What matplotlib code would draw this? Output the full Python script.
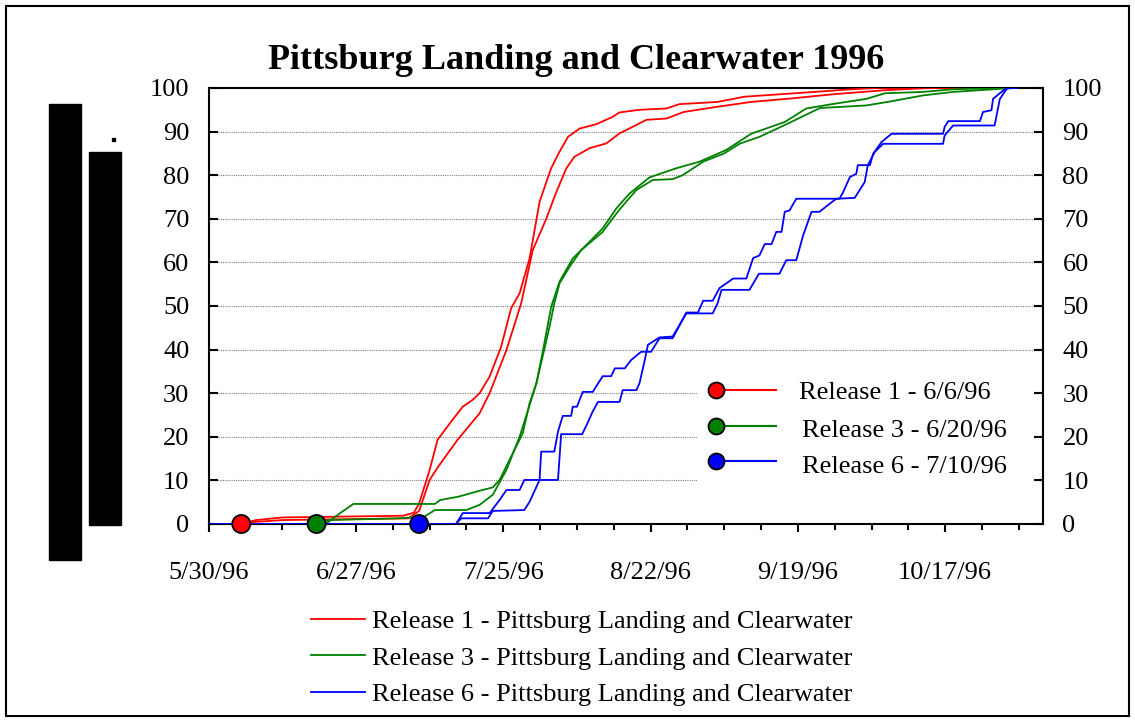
import numpy as np
import matplotlib.pyplot as plt
from matplotlib.patches import Rectangle
from matplotlib.lines import Line2D

plt.rcParams['font.family'] = ['Liberation Serif', 'DejaVu Serif']

# x = days after 5/30/96, y = cumulative percent passage
r1a_day = [0, 6, 9, 14, 37, 39, 40, 42, 43.5, 46.1, 48.3, 50.2, 51.5, 53.4, 55.6, 57.5, 59.1,
           61.0, 62.9, 65.1, 66.7, 68.3, 70.5, 73.7, 76.8, 78.1, 81.9, 87.0, 89.5, 96.7,
           101.8, 112.7, 122.2, 126.7, 153]
r1a_pct = [0, 0, 0.9, 1.5, 1.9, 2.6, 4.7, 12.4, 19.3, 23.5, 26.9, 28.5, 30.0, 33.8, 40.7, 49.5, 52.9,
           60.9, 73.9, 81.6, 85.4, 88.8, 90.7, 91.7, 93.4, 94.4, 95.0, 95.3, 96.3, 96.8,
           98.0, 98.9, 99.7, 100, 100]
r1b_day = [0, 6, 9, 14, 38, 40, 42, 43.6, 47.3, 51.5, 53.4, 56.6, 59.4, 61.6, 64.2, 66.1, 68.0,
           69.5, 72.4, 75.6, 78.1, 80.6, 83.2, 87.0, 90.3, 96.7, 103.1, 110.7, 119.0, 128.6,
           137.0, 153]
r1b_pct = [0, 0, 0.5, 0.9, 1.3, 3.0, 10.1, 13.1, 19.3, 25.4, 30.0, 39.9, 50.6, 62.8, 70.1, 76.2, 81.6,
           84.2, 86.2, 87.3, 89.6, 91.1, 92.7, 93.0, 94.5, 95.7, 96.8, 97.6, 98.6, 99.5,
           100, 100]

r3a_day = [0, 21, 22.8, 25.0, 27.5, 43.0, 44.0, 47.6, 50.8, 54.0, 55.3, 57.8, 59.7, 61.0, 62.3,
           63.5, 65.1, 66.7, 69.2, 71.8, 74.9, 77.5, 80.0, 83.8, 88.9, 93.3, 98.4, 103.1, 109.5,
           113.6, 119.0, 125.0, 128.6, 135.8, 141.4, 150.4, 153]
r3a_pct = [0, 0, 0.5, 2.5, 4.6, 4.6, 5.5, 6.3, 7.4, 8.4, 10.1, 16.2, 20.8, 27.7, 32.3,
           39.5, 49.8, 55.6, 60.9, 64.0, 67.8, 72.4, 75.8, 79.5, 81.6, 83.1, 85.8, 89.5, 92.2,
           95.3, 96.4, 97.5, 98.8, 99.1, 99.7, 100, 100]
r3b_day = [0, 21, 22.8, 36, 41, 43, 49, 51.5, 54.0, 56.6, 59.1, 60.7, 62.3, 63.5, 64.8, 65.7,
           66.7, 68.6, 70.8, 74.9, 78.0, 81.3, 84.4, 88.2, 90.1, 94.0, 98.0, 100.9, 104.7, 109.5,
           116.2, 125.0, 130.0, 135.8, 141.5, 150.4, 153]
r3b_pct = [0, 0, 0.9, 1.3, 1.7, 3.2, 3.2, 4.4, 6.7, 12.4, 20.0, 26.1, 32.3, 38.5, 45.3, 50.6,
           55.2, 59.0, 62.8, 67.0, 72.0, 76.6, 78.9, 79.1, 80.0, 83.1, 85.0, 87.2, 88.8, 91.5,
           95.4, 96.0, 97.0, 98.3, 99.1, 99.8, 100]

r6a_day = [0, 47.0, 48.0, 53.1, 54.0, 60.0, 61.0, 62.9, 63.2, 65.7, 66.4, 67.3, 68.9, 69.2, 70.0,
           71.1, 73.0, 74.9, 76.5, 77.2, 79.1, 80.3, 82.2, 84.1, 85.7, 88.2, 90.8, 93.0, 94.0,
           95.8, 97.1, 99.7, 102.2, 103.5, 104.7, 105.7, 107.0, 107.9, 108.9, 109.5, 110.4,
           111.7, 119.9, 120.6, 121.9, 123.1, 123.4, 125.7, 126.3, 127.9, 129.8, 139.6, 139.9,
           140.6, 146.6, 147.2, 148.8, 149.1, 150.7, 151.7, 153.6]
r6a_pct = [0, 0, 1.3, 1.3, 3.0, 3.2, 5.1, 10.1, 16.6, 16.6, 21.2, 24.8, 24.8, 26.9, 26.9,
           30.3, 30.3, 33.9, 33.9, 35.7, 35.7, 37.6, 39.5, 39.5, 42.6, 42.6, 48.5, 48.5, 51.2,
           51.2, 54.1, 56.3, 56.3, 61.0, 61.6, 64.2, 64.2, 67.0, 67.0, 71.6, 71.9,
           74.6, 74.6, 76.1, 79.6, 80.3, 82.3, 82.3, 84.9, 87.6, 89.5, 89.5, 91.1,
           92.4, 92.4, 94.5, 94.9, 97.5, 99.1, 100, 100]
r6b_day = [0, 47.0, 48.3, 53.4, 55.3, 56.6, 59.1, 60.0, 66.4, 67.0, 71.0, 72.0, 73.0, 74.0, 78.1,
           78.7, 81.3, 81.9, 82.9, 83.5, 85.7, 88.2, 90.8, 95.8, 96.7, 97.5, 102.8, 104.6, 108.5,
           109.8, 111.7, 113.0, 114.6, 116.1, 118.1, 119.3, 122.8, 124.7, 125.3, 126.6, 128.2,
           139.6, 139.9, 141.5, 149.4, 150.4, 151.7, 152.3, 153.6]
r6b_pct = [0, 0, 2.5, 2.5, 5.5, 7.8, 7.8, 10.1, 10.1, 20.6, 20.6, 23.1, 25.8, 28.0, 28.0,
           30.7, 30.7, 32.3, 37.6, 41.1, 42.8, 43.0, 48.3, 48.3, 50.5, 53.7, 53.7, 57.4, 57.4,
           60.5, 60.5, 66.2, 71.6, 71.6, 73.5, 74.6, 74.8, 78.4, 82.3, 85.3, 87.2,
           87.2, 89.1, 91.4, 91.4, 97.5, 99.8, 100, 100]

release_day = [6.2, 20.5, 40.0]
release_names = ['Release 1 - 6/6/96', 'Release 3 - 6/20/96', 'Release 6 - 7/10/96']
site_names = ['Release 1 - Pittsburg Landing and Clearwater',
              'Release 3 - Pittsburg Landing and Clearwater',
              'Release 6 - Pittsburg Landing and Clearwater']
colors = ['#ff0000', '#008000', '#0000ff']

tick_days = [0, 28, 56, 84, 112, 140]
tick_labels = ['5/30/96', '6/27/96', '7/25/96', '8/22/96', '9/19/96', '10/17/96']

W, H = 1135, 721


def fx(x):
    return x / W


def fy(y):
    return 1 - y / H


fig = plt.figure(figsize=(W / 100, H / 100), dpi=100)
ax = fig.add_axes([fx(208.7), fy(524), fx(1043) - fx(208.7), fy(88) - fy(524)])

curves = [(r1a_day, r1a_pct, r1b_day, r1b_pct),
          (r3a_day, r3a_pct, r3b_day, r3b_pct),
          (r6a_day, r6a_pct, r6b_day, r6b_pct)]
handles = []
for (da, pa, db, pb), c in zip(curves, colors):
    h, = ax.plot(da, pa, color=c, lw=1.3, zorder=3)
    ax.plot(db, pb, color=c, lw=1.3, zorder=3)
    handles.append(h)

ax.scatter(release_day, [0, 0, 0], s=13 ** 2, c=colors, edgecolors='black',
           linewidths=1.3, zorder=6, clip_on=False)

ax.set_xlim(0, 158.6)
ax.set_ylim(0, 100)
ax.set_xticks(tick_days)
ax.set_xticklabels(tick_labels)
ax.set_xticks(np.arange(0, 158, 7), minor=True)
ax.set_yticks(np.arange(0, 101, 10))
ax.tick_params(axis='x', which='major', direction='out', length=6, width=1.5,
               labelsize=19, pad=21.5)
ax.tick_params(axis='x', which='minor', direction='out', length=4, width=1.5)
ax.tick_params(axis='y', direction='in', length=6.5, width=1.5, left=True, right=True,
               labelleft=True, labelright=True, labelsize=19, pad=14)
for s in ax.spines.values():
    s.set_linewidth(1.5)
ax.yaxis.grid(True, color='#808080', linestyle=(0, (1, 1)), linewidth=0.8)

# legend inside the plot (marker + line + label)
ax.add_patch(Rectangle((fx(697), fy(490)), fx(1033) - fx(697), fy(365) - fy(490),
                       transform=fig.transFigure, facecolor='white', edgecolor='none',
                       zorder=1.8))
leg_y = [389.5, 426, 461.3]
leg_text_x = [799, 802, 802]
leg_text_y = [393, 431, 467]
for i, c in enumerate(colors):
    ax.add_line(Line2D([fx(716), fx(776)], [fy(leg_y[i]), fy(leg_y[i])],
                       transform=fig.transFigure, color=c, lw=1.5, zorder=4))
    ax.add_line(Line2D([fx(716)], [fy(leg_y[i])], transform=fig.transFigure,
                       marker='o', ms=11.5, mfc=c, mec='black', mew=1.3, zorder=5))
    fig.text(fx(leg_text_x[i]), fy(leg_text_y[i]), release_names[i], fontsize=19,
             va='center', ha='left')

fig.legend(handles, site_names, loc='upper left', bbox_to_anchor=(fx(311), fy(610)),
           frameon=False, fontsize=19, handlelength=2.05, handletextpad=0.27,
           labelspacing=0.48, borderpad=0, borderaxespad=0)

fig.text(fx(576.5), fy(69), 'Pittsburg Landing and Clearwater 1996', fontsize=26,
         fontweight='bold', ha='center', va='baseline')

# black blocks on the left side
fig.patches.append(Rectangle((fx(49), fy(560)), fx(81) - fx(49), fy(104) - fy(560),
                             transform=fig.transFigure, color='black'))
fig.patches.append(Rectangle((fx(89), fy(525)), fx(121) - fx(89), fy(152) - fy(525),
                             transform=fig.transFigure, color='black'))
fig.patches.append(Rectangle((fx(112), fy(141)), fx(3), fx(3) * W / H,
                             transform=fig.transFigure, color='black'))
# bottom strip where the last legend row is cut off
fig.artists.append(Rectangle((fx(8), fy(715)), fx(1127) - fx(8), fy(708) - fy(715),
                             transform=fig.transFigure, facecolor='white',
                             edgecolor='none', zorder=10))
# outer frame
fig.patches.append(Rectangle((fx(6), fy(716)), fx(1129) - fx(6), fy(6) - fy(716),
                             transform=fig.transFigure, fill=False, edgecolor='black',
                             lw=1.5))

fig.savefig('out.png', dpi=100)
